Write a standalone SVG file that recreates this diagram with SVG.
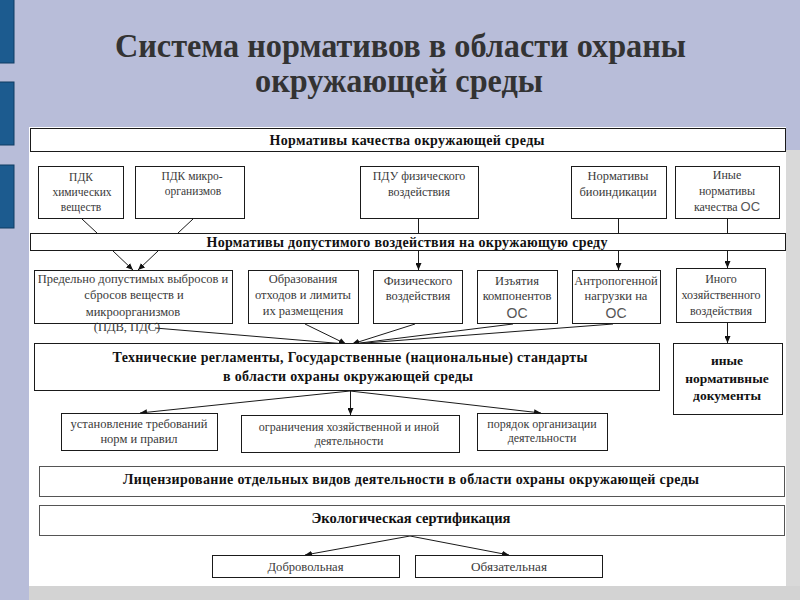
<svg xmlns="http://www.w3.org/2000/svg" width="800" height="600" viewBox="0 0 800 600">
<defs>
<style>
.box{fill:#fff;stroke:#1a1a1a;stroke-width:1}
.t{font-family:"Liberation Serif","Times New Roman",serif;fill:#3a3a3a;text-anchor:middle;font-size:12px}
.s{font-family:"Liberation Sans",Arial,sans-serif;font-size:13px;fill:#555}
.b{font-weight:bold;fill:#111;font-size:14px}
.title{font-family:"Liberation Serif","Times New Roman",serif;font-weight:bold;fill:#333;font-size:33px;text-anchor:middle}
#connectors line{stroke:#1a1a1a;stroke-width:1}
.bar{fill:#1c5b8f;stroke:#0f3c63;stroke-width:1}
</style>
<marker id="arr" markerUnits="userSpaceOnUse" markerWidth="7" markerHeight="6" refX="7" refY="3" orient="auto">
<path d="M0,0 L7,3 L0,6 z" fill="#111"/>
</marker>
</defs>
<rect x="0" y="0" width="800" height="600" fill="#b8bdd9"/>
<rect class="bar" x="-1" y="-1" width="15" height="64"/>
<rect class="bar" x="-1" y="82" width="15" height="63"/>
<rect class="bar" x="-1" y="165" width="15" height="63"/>
<rect x="786" y="150" width="14" height="450" fill="#d9d9d9"/>
<rect x="29" y="586" width="771" height="14" fill="#d3d3d3"/>
<rect x="29" y="127" width="757" height="459" fill="#fff"/>
<g id="title">
<text class="title" x="400.5" y="57" textLength="571" lengthAdjust="spacingAndGlyphs">Система нормативов в области охраны</text>
<text class="title" x="399" y="92" textLength="288" lengthAdjust="spacingAndGlyphs">окружающей среды</text>
</g>
<g id="connectors">
<line x1="82" y1="219" x2="97" y2="233"/>
<line x1="193" y1="219" x2="178" y2="233"/>
<line x1="418.5" y1="218" x2="418.5" y2="233"/>
<line x1="618.5" y1="218" x2="618.5" y2="233"/>
<line x1="727.5" y1="218" x2="727.5" y2="233"/>
<line x1="113" y1="251" x2="133" y2="270" marker-end="url(#arr)"/>
<line x1="158" y1="251" x2="138" y2="270" marker-end="url(#arr)"/>
<line x1="418.5" y1="251" x2="418.5" y2="270" marker-end="url(#arr)"/>
<line x1="618.5" y1="251" x2="618.5" y2="270" marker-end="url(#arr)"/>
<line x1="727.5" y1="251" x2="727.5" y2="268" marker-end="url(#arr)"/>
<line x1="155" y1="328" x2="346" y2="344" marker-end="url(#arr)"/>
<line x1="305" y1="324" x2="346" y2="344" marker-end="url(#arr)"/>
<line x1="415" y1="324" x2="352" y2="344" marker-end="url(#arr)"/>
<line x1="513" y1="324" x2="352" y2="344" marker-end="url(#arr)"/>
<line x1="613" y1="324" x2="352" y2="344" marker-end="url(#arr)"/>
<line x1="727.5" y1="322" x2="727.5" y2="343" marker-end="url(#arr)"/>
<line x1="350" y1="391" x2="140" y2="413" marker-end="url(#arr)"/>
<line x1="350.5" y1="391" x2="350.5" y2="415" marker-end="url(#arr)"/>
<line x1="350" y1="391" x2="541" y2="413" marker-end="url(#arr)"/>
<line x1="410" y1="536" x2="305" y2="555" marker-end="url(#arr)"/>
<line x1="410" y1="536" x2="509" y2="555" marker-end="url(#arr)"/>
</g>
<g id="n-quality">
<rect class="box" x="30.5" y="128.5" width="755" height="23"/>
<text class="t b" x="407" y="145" textLength="275">Нормативы качества окружающей среды</text>
</g>
<g id="n-pdk-chem">
<rect class="box" x="38.5" y="166.5" width="85" height="52"/>
<text class="t" x="81" y="181" style="font-size:11.5px">ПДК</text>
<text class="t" x="82" y="196" style="font-size:11.5px">химических</text>
<text class="t" x="81" y="211" style="font-size:11.5px">веществ</text>
</g>
<g id="n-pdk-micro">
<rect class="box" x="135.5" y="166.5" width="109" height="52"/>
<text class="t" x="192" y="180" style="font-size:11.5px">ПДК микро-</text>
<text class="t" x="193" y="195" style="font-size:11.5px">организмов</text>
</g>
<g id="n-pdu">
<rect class="box" x="360.5" y="166.5" width="118" height="52"/>
<text class="t" x="419" y="180">ПДУ физического</text>
<text class="t" x="419" y="196">воздействия</text>
</g>
<g id="n-bio">
<rect class="box" x="571.5" y="166.5" width="95" height="52"/>
<text class="t" x="618" y="180" style="font-size:12.5px">Нормативы</text>
<text class="t" x="618" y="196" style="font-size:12.5px">биоиндикации</text>
</g>
<g id="n-other-quality">
<rect class="box" x="675.5" y="166.5" width="104" height="52"/>
<text class="t" x="727" y="179">Иные</text>
<text class="t" x="727" y="195">нормативы</text>
<text class="t" x="727" y="211">качества <tspan class="s">ОС</tspan></text>
</g>
<g id="n-allowed">
<rect class="box" x="30.5" y="233.5" width="755" height="17"/>
<text class="t b" x="407" y="247" textLength="401">Нормативы допустимого воздействия на окружающую среду</text>
</g>
<g id="n-pdv">
<rect class="box" x="34.5" y="270.5" width="198" height="53"/>
<text class="t" x="133" y="283" style="font-size:12.5px">Предельно допустимых выбросов и</text>
<text class="t" x="134" y="299" style="font-size:12.5px">сбросов веществ и</text>
<text class="t" x="133" y="316" style="font-size:12.5px">микроорганизмов</text>
<text class="t" x="127" y="331" style="font-size:12.5px">(ПДВ, ПДС)</text>
</g>
<g id="n-waste">
<rect class="box" x="248.5" y="270.5" width="110" height="53"/>
<text class="t" x="303" y="283" style="font-size:12.5px">Образования</text>
<text class="t" x="303" y="299" style="font-size:12.5px">отходов и лимиты</text>
<text class="t" x="303" y="315" style="font-size:12.5px">их размещения</text>
</g>
<g id="n-phys">
<rect class="box" x="373.5" y="270.5" width="89" height="53"/>
<text class="t" x="418" y="285" style="font-size:12.5px">Физического</text>
<text class="t" x="418" y="300" style="font-size:12.5px">воздействия</text>
</g>
<g id="n-withdraw">
<rect class="box" x="477.5" y="270.5" width="80" height="53"/>
<text class="t" x="517" y="285" style="font-size:12.5px">Изъятия</text>
<text class="t" x="517" y="300" style="font-size:12.5px">компонентов</text>
<text class="t s" x="517" y="318" style="font-size:14px">ОС</text>
</g>
<g id="n-anthro">
<rect class="box" x="572.5" y="270.5" width="88" height="53"/>
<text class="t" x="616" y="285" style="font-size:12.5px">Антропогенной</text>
<text class="t" x="616" y="300" style="font-size:12.5px">нагрузки на</text>
<text class="t s" x="616" y="318" style="font-size:14px">ОС</text>
</g>
<g id="n-other-impact">
<rect class="box" x="676.5" y="268.5" width="89" height="54"/>
<text class="t" x="721" y="283">Иного</text>
<text class="t" x="721" y="299">хозяйственного</text>
<text class="t" x="721" y="315">воздействия</text>
</g>
<g id="n-tech">
<rect class="box" x="34.5" y="343.5" width="625" height="47"/>
<text class="t b" x="350" y="362" textLength="475">Технические регламенты, Государственные (национальные) стандарты</text>
<text class="t b" x="348" y="381" textLength="250">в области охраны окружающей среды</text>
</g>
<g id="n-other-docs">
<rect class="box" x="673.5" y="343.5" width="109" height="71"/>
<text class="t b" x="727" y="365" style="font-size:13.5px">иные</text>
<text class="t b" x="727" y="383" style="font-size:13.5px">нормативные</text>
<text class="t b" x="727" y="400" style="font-size:13.5px">документы</text>
</g>
<g id="n-requirements">
<rect class="box" x="61.5" y="413.5" width="156" height="37"/>
<text class="t" x="139" y="428" style="font-size:12.5px">установление требований</text>
<text class="t" x="139" y="443" style="font-size:12.5px">норм и правил</text>
</g>
<g id="n-restrictions">
<rect class="box" x="241.5" y="415.5" width="218" height="37"/>
<text class="t" x="349" y="431">ограничения хозяйственной и иной</text>
<text class="t" x="349" y="445">деятельности</text>
</g>
<g id="n-order">
<rect class="box" x="477.5" y="413.5" width="130" height="37"/>
<text class="t" x="542" y="428">порядок организации</text>
<text class="t" x="542" y="442">деятельности</text>
</g>
<g id="n-licensing">
<rect class="box" x="39.5" y="466.5" width="745" height="30" style="stroke:#555"/>
<text class="t b" x="411" y="484" textLength="576">Лицензирование отдельных видов деятельности в области охраны окружающей среды</text>
</g>
<g id="n-eco-cert">
<rect class="box" x="39.5" y="505.5" width="745" height="30" style="stroke:#555"/>
<text class="t b" x="411" y="523" style="font-size:15px" textLength="199" lengthAdjust="spacingAndGlyphs">Экологическая сертификация</text>
</g>
<g id="n-voluntary">
<rect class="box" x="212.5" y="555.5" width="187" height="22"/>
<text class="t" x="305.5" y="571" style="font-size:13px" textLength="76" lengthAdjust="spacingAndGlyphs">Добровольная</text>
</g>
<g id="n-mandatory">
<rect class="box" x="415.5" y="555.5" width="187" height="22"/>
<text class="t" x="509" y="571" style="font-size:13px" textLength="76" lengthAdjust="spacingAndGlyphs">Обязательная</text>
</g>
</svg>
